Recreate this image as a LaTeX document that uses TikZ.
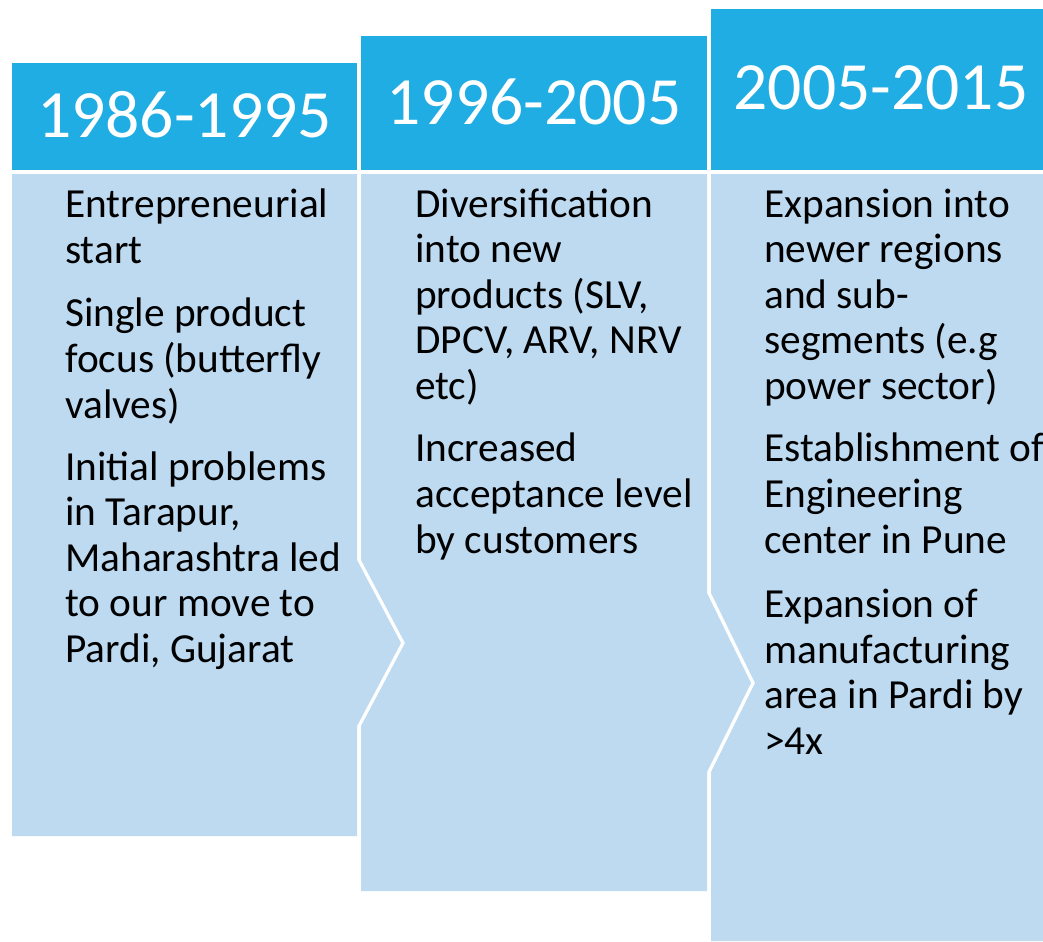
\documentclass[tikz,border=0pt]{standalone}
\usepackage{fontspec}
\setmainfont{Carlito}
\usepackage{tikz}
\usetikzlibrary{calc}

\begin{document}
\begin{tikzpicture}[x=0.75pt,y=0.75pt,yscale=-1,xscale=1,
  headfill/.style={fill={rgb, 255:red, 31; green, 173; blue, 228 }},
  bodyfill/.style={fill={rgb, 255:red, 189; green, 218; blue, 241 }},
  yeartext/.style={inner sep=0pt, text=white, font=\fontsize{50.7}{58}\selectfont},
  itemtext/.style={anchor=base west, inner sep=0pt, align=left, text=black, font=\fontsize{31}{34.2}\selectfont}]
\useasboundingbox (0,0) rectangle (1043,942);

%Shape: Rectangle [header 1]
\path [headfill] (12,63) -- (357,63) -- (357,170) -- (12,170) -- cycle ;
%Shape: Rectangle [header 2]
\path [headfill] (361,36) -- (707,36) -- (707,170) -- (361,170) -- cycle ;
%Shape: Rectangle [header 3]
\path [headfill] (711,9) -- (1043,9) -- (1043,170) -- (711,170) -- cycle ;

%Shape: Chevron [body 1]
\path [bodyfill] (12,174) -- (357,174) -- (357,560) -- (401,643) -- (357,726) -- (357,836) -- (12,836) -- cycle ;
%Shape: Chevron [body 2]
\path [bodyfill] (361,174) -- (707,174) -- (707,593) -- (751,683) -- (707,772) -- (707,891) -- (361,891) -- (361,726) -- (405,643) -- (361,560) -- cycle ;
%Shape: Chevron [body 3]
\path [bodyfill] (711,174) -- (1043,174) -- (1043,941) -- (711,941) -- (711,772) -- (755,683) -- (711,593) -- cycle ;

% Text Node
\node [yeartext] (yearA) at (184.5,115) {1986-1995};
% Text Node
\node [yeartext] (yearB) at (534,101.5) {1996-2005};
% Text Node
\node [yeartext] (yearC) at (881,88) {2005-2015};

% Text Node (placed at the baseline of its last line)
\node [itemtext] (startA) at (65,263) {Entrepreneurial\\start};
% Text Node
\node [itemtext] (focusA) at (65,418) {Single product\\focus (butterfly\\valves)};
% Text Node
\node [itemtext] (moveA) at (65,662.5) {Initial problems\\in Tarapur,\\Maharashtra led\\to our move to\\Pardi, Gujarat};

% Text Node
\node [itemtext] (diverseB) at (415,399.5) {Diversification\\into new\\products (SLV,\\DPCV, ARV, NRV\\etc)};
% Text Node
\node [itemtext] (acceptB) at (415,553) {Increased\\acceptance level\\by customers};

% Text Node
\node [itemtext] (regionC) at (764,399.5) {Expansion into\\newer regions\\and sub-\\segments (e.g\\power sector)};
% Text Node
\node [itemtext] (centerC) at (764,553) {Establishment of\\Engineering\\center in Pune};
% Text Node
\node [itemtext] (areaC) at (764,754.5) {Expansion of\\manufacturing\\area in Pardi by\\>4x};
\end{tikzpicture}
\end{document}
